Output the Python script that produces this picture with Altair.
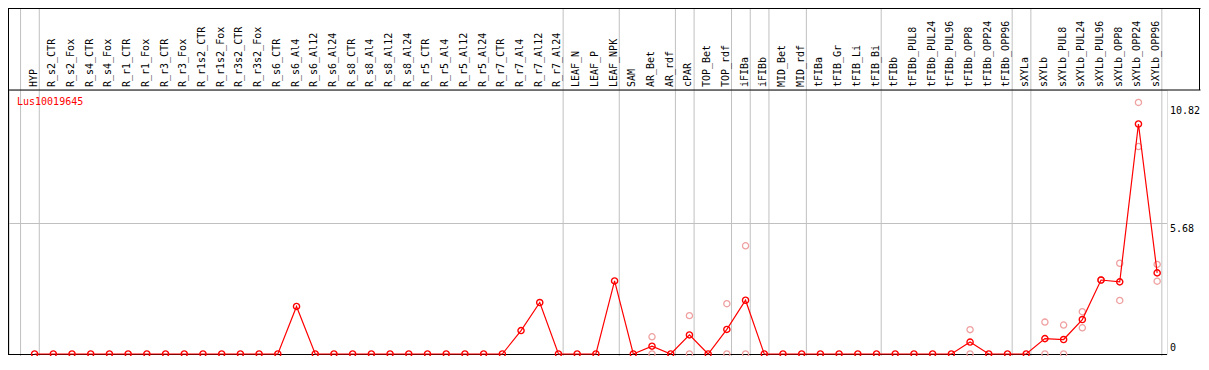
import altair as alt
import pandas as pd

gene = "Lus10019645"

categories = [
    "HYP", "R_s2_CTR", "R_s2_Fox", "R_s4_CTR", "R_s4_Fox", "R_r1_CTR", "R_r1_Fox",
    "R_r3_CTR", "R_r3_Fox", "R_r1s2_CTR", "R_r1s2_Fox", "R_r3s2_CTR", "R_r3s2_Fox",
    "R_s6_CTR", "R_s6_Al4", "R_s6_Al12", "R_s6_Al24", "R_s8_CTR", "R_s8_Al4",
    "R_s8_Al12", "R_s8_Al24", "R_r5_CTR", "R_r5_Al4", "R_r5_Al12", "R_r5_Al24",
    "R_r7_CTR", "R_r7_Al4", "R_r7_Al12", "R_r7_Al24", "LEAF_N", "LEAF_P", "LEAF_NPK",
    "SAM", "AR_Bet", "AR_rdf", "cPAR", "TOP_Bet", "TOP_rdf", "iFIBa", "iFIBb",
    "MID_Bet", "MID_rdf", "tFIBa", "tFIB_Gr", "tFIB_Li", "tFIB_Bi", "tFIBb",
    "tFIBb_PUL8", "tFIBb_PUL24", "tFIBb_PUL96", "tFIBb_OPP8", "tFIBb_OPP24",
    "tFIBb_OPP96", "sXYLa", "sXYLb", "sXYLb_PUL8", "sXYLb_PUL24", "sXYLb_PUL96",
    "sXYLb_OPP8", "sXYLb_OPP24", "sXYLb_OPP96",
]

mean_values = [
    0, 0, 0, 0, 0, 0, 0, 0, 0, 0, 0, 0, 0,
    0, 2.07, 0, 0, 0, 0, 0, 0, 0, 0, 0, 0,
    0, 1.02, 2.24, 0, 0, 0, 3.18,
    0, 0.34, 0, 0.83, 0, 1.07, 2.34, 0,
    0, 0, 0, 0, 0, 0, 0,
    0, 0, 0, 0.52, 0, 0,
    0, 0.67, 0.63, 1.50, 3.22, 3.14, 10.01, 3.53,
]

rep_index = [33, 33, 35, 35, 37, 37, 38, 38, 50, 50, 54, 54, 55, 55,
             56, 56, 57, 57, 58, 58, 59, 59, 60, 60]
rep_values = [0.75, 0, 1.67, 0, 2.19, 0, 4.71, 0, 1.06, 0, 1.39, 0, 1.26, 0,
              1.84, 1.14, 3.22, 3.22, 3.95, 2.33, 10.95, 9.03, 3.90, 3.17]

group_breaks = [-1, 0, 28, 31, 34, 35, 37, 38, 39, 41, 45, 52, 53, 60]
y_ticks = [0, 5.68, 10.82]
y_tick_labels = ["0", "5.68", "10.82"]
grid_values = [5.68]

W, H = 1158, 264
PAD = {"left": 1, "top": 82, "right": 34, "bottom": 2}
FONT = "DejaVu Sans Mono"
RED = "#ff0000"
PINK = "#f0a0a0"
GRAY = "#c0c0c0"

main = pd.DataFrame({"idx": list(range(len(categories))), "name": categories, "mean": mean_values})
reps = pd.DataFrame({"idx": rep_index, "value": rep_values})
breaks = pd.DataFrame({"b": group_breaks})
grid = pd.DataFrame({"g": grid_values})
ticks = pd.DataFrame({"t": y_ticks, "lab": y_tick_labels})

xscale = alt.Scale(domain=[-1.368, 60.526], nice=False, zero=False)
yscale = alt.Scale(domain=[0, 11.49], nice=False, zero=True)

one = alt.Data(values=[{}])


def hline(y, x0, x1, color="black"):
    return alt.Chart(one).mark_rule(color=color, strokeWidth=1).encode(
        y=alt.value(y), x=alt.value(x0), x2=alt.value(x1))


def vline(x, y0, y1, color="black"):
    return alt.Chart(one).mark_rule(color=color, strokeWidth=1).encode(
        x=alt.value(x), y=alt.value(y0), y2=alt.value(y1))


seps = alt.Chart(breaks).transform_calculate(pos="datum.b + 0.25").mark_rule(
    color=GRAY, strokeWidth=1).encode(
    x=alt.X("pos:Q", scale=xscale, axis=None),
    y=alt.value(-PAD["top"]), y2=alt.value(H + PAD["bottom"]))

gridline = alt.Chart(grid).mark_rule(color=GRAY, strokeWidth=1).encode(
    y=alt.Y("g:Q", scale=yscale, axis=None),
    x=alt.value(0), x2=alt.value(W))

tick_top = alt.Chart(ticks).transform_filter("datum.t > 0").mark_text(
    align="left", baseline="top", font=FONT, fontSize=10, color="black", dy=1).encode(
    y=alt.Y("t:Q", scale=yscale, axis=None),
    x=alt.value(W + 3), text="lab:N")

tick_zero = alt.Chart(ticks).transform_filter("datum.t == 0").mark_text(
    align="left", baseline="bottom", font=FONT, fontSize=10, color="black", dy=-1).encode(
    y=alt.Y("t:Q", scale=yscale, axis=None),
    x=alt.value(W + 3), text="lab:N")

rep_pts = alt.Chart(reps).mark_point(shape="circle", filled=False, size=38,
                                     strokeWidth=1.3, color=PINK, opacity=1).encode(
    x=alt.X("idx:Q", scale=xscale, axis=None),
    y=alt.Y("value:Q", scale=yscale, axis=None))

line = alt.Chart(main).mark_line(color=RED, strokeWidth=1.2).encode(
    x=alt.X("idx:Q", scale=xscale, axis=None),
    y=alt.Y("mean:Q", scale=yscale, axis=None))

pts = alt.Chart(main).mark_point(shape="circle", filled=False, size=38,
                                 strokeWidth=1.4, color=RED, opacity=1).encode(
    x=alt.X("idx:Q", scale=xscale, axis=None),
    y=alt.Y("mean:Q", scale=yscale, axis=None))

labels = alt.Chart(main).mark_text(angle=270, align="left", baseline="middle",
                                   font=FONT, fontSize=10, color="black", xOffset=-1).encode(
    x=alt.X("idx:Q", scale=xscale, axis=None),
    y=alt.value(-3),
    text="name:N")

title = alt.Chart(one).mark_text(align="left", baseline="middle", font=FONT,
                                 fontSize=10, color=RED).encode(
    x=alt.value(8), y=alt.value(12), text=alt.value(gene))

full_w = W + PAD["right"] - 1.5
frame = [
    hline(-PAD["top"] + 0.5, -1, full_w + 1),   # top of header
    hline(0, -1, full_w + 1),                   # header bottom
    vline(-0.5, -PAD["top"], H),                # left border
    vline(full_w, -PAD["top"], 0),              # right border of header
    hline(H + 0.5, -1, W),                      # bottom baseline
]

chart = alt.layer(
    seps, gridline, *frame, tick_top, tick_zero, rep_pts, line, pts, labels, title
).properties(
    width=W, height=H,
    autosize=alt.AutoSizeParams(type="none"),
    padding=PAD,
).configure_view(stroke=None).configure(background="white")

chart.save("out.html", embed_options={"renderer": "svg", "actions": False})
